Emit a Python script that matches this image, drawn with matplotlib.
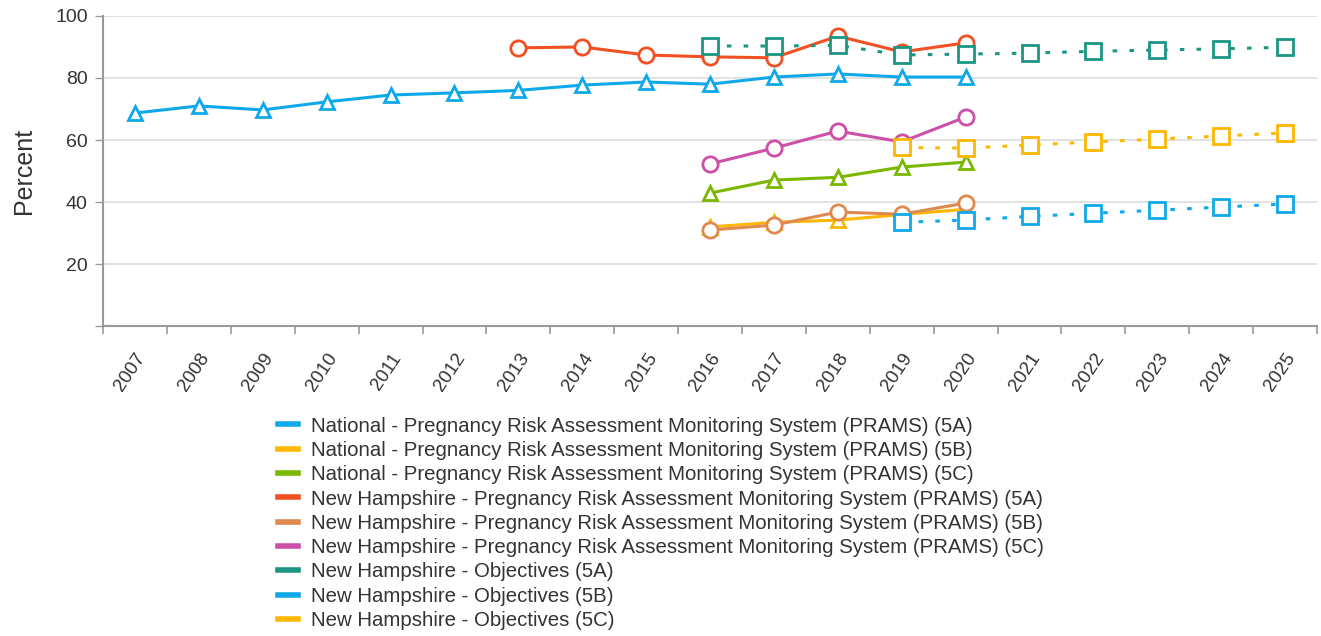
import matplotlib.pyplot as plt
import numpy as np

years = [str(y) for y in range(2007, 2026)]

# national PRAMS
nat_5a_years = list(range(2007, 2021))
nat_5a = [68.7, 71.0, 69.7, 72.3, 74.5, 75.2, 76.0, 77.7, 78.7, 78.0, 80.3, 81.3, 80.3, 80.3]
nat_5b_years = list(range(2016, 2021))
nat_5b = [32.0, 33.5, 34.2, 36.0, 37.7]
nat_5c_years = list(range(2016, 2021))
nat_5c = [42.9, 47.1, 48.0, 51.3, 52.9]

# New Hampshire PRAMS
nh_5a_years = list(range(2013, 2021))
nh_5a = [89.7, 90.0, 87.4, 86.8, 86.5, 93.5, 88.4, 91.3]
nh_5b_years = list(range(2016, 2021))
nh_5b = [31.0, 32.6, 36.8, 36.1, 39.7]
nh_5c_years = list(range(2016, 2021))
nh_5c = [52.3, 57.4, 62.9, 59.4, 67.4]

# New Hampshire objectives
obj_5a_years = list(range(2016, 2026))
obj_5a = [90.3, 90.3, 90.5, 87.4, 87.7, 88.0, 88.6, 89.0, 89.4, 89.9]
obj_5b_years = list(range(2019, 2026))
obj_5b = [33.5, 34.2, 35.4, 36.4, 37.4, 38.4, 39.4]
obj_5c_years = list(range(2019, 2026))
obj_5c = [57.6, 57.4, 58.4, 59.4, 60.3, 61.3, 62.3]

series = [
    ("National - Pregnancy Risk Assessment Monitoring System (PRAMS) (5A)", nat_5a_years, nat_5a, "#0fa8ea", "^", "-"),
    ("National - Pregnancy Risk Assessment Monitoring System (PRAMS) (5B)", nat_5b_years, nat_5b, "#ffb700", "^", "-"),
    ("National - Pregnancy Risk Assessment Monitoring System (PRAMS) (5C)", nat_5c_years, nat_5c, "#7ab800", "^", "-"),
    ("New Hampshire - Pregnancy Risk Assessment Monitoring System (PRAMS) (5A)", nh_5a_years, nh_5a, "#f25022", "o", "-"),
    ("New Hampshire - Pregnancy Risk Assessment Monitoring System (PRAMS) (5B)", nh_5b_years, nh_5b, "#de8a4f", "o", "-"),
    ("New Hampshire - Pregnancy Risk Assessment Monitoring System (PRAMS) (5C)", nh_5c_years, nh_5c, "#cc4fa8", "o", "-"),
    ("New Hampshire - Objectives (5A)", obj_5a_years, obj_5a, "#1a9683", "s", (0, (1.5, 4))),
    ("New Hampshire - Objectives (5B)", obj_5b_years, obj_5b, "#0fa8ea", "s", (0, (1.5, 4))),
    ("New Hampshire - Objectives (5C)", obj_5c_years, obj_5c, "#ffb700", "s", (0, (1.5, 4))),
]

plt.rcParams["font.family"] = ["Liberation Sans", "DejaVu Sans"]

fig = plt.figure(figsize=(13.21, 6.36), dpi=100)
ax = fig.add_axes([0.078, 0.487, 0.919, 0.488])

for label, yrs, vals, color, marker, ls in series:
    x = [y - 2007 for y in yrs]
    ax.plot(x, vals, color=color, linestyle=ls, linewidth=2.2, marker=marker,
            markersize=11 if marker != "^" else 10, markerfacecolor="white",
            markeredgecolor=color, markeredgewidth=2.0, label=label,
            solid_capstyle="round", dash_capstyle="butt")

ax.set_xlim(-0.5, len(years) - 0.5)
ax.set_ylim(0, 100)
ax.set_yticks([0, 20, 40, 60, 80, 100])
ax.set_yticklabels(["", "20", "40", "60", "80", "100"])
ax.set_xticks(np.arange(len(years)))
ax.set_xticklabels(years, rotation=56, ha="right", va="top", rotation_mode="anchor")
ax.set_xticks(np.arange(len(years) + 1) - 0.5, minor=True)
ax.tick_params(axis="x", which="major", length=0, pad=17, labelsize=13.5, labelcolor="#333333")
ax.tick_params(axis="x", which="minor", length=6, color="#999999", width=1.2)
ax.tick_params(axis="y", length=6, color="#999999", width=1.0, labelsize=14, labelcolor="#333333", pad=5)
ax.grid(axis="y", color="#dddddd", linewidth=1.2)
ax.set_axisbelow(True)
for s in ["top", "right"]:
    ax.spines[s].set_visible(False)
for s in ["left", "bottom"]:
    ax.spines[s].set_color("#999999")
    ax.spines[s].set_linewidth(1.5)
ax.set_ylabel("Percent", fontsize=18, color="#333333", labelpad=14)

handles, labels = ax.get_legend_handles_labels()
leg_handles = [plt.Line2D([], [], color=h.get_color(), linewidth=4) for h in handles]
fig.legend(leg_handles, labels, loc="upper left", bbox_to_anchor=(0.2105, 0.345),
           frameon=False, fontsize=14.7, handlelength=1.0, handletextpad=0.6,
           labelspacing=0.26, borderaxespad=0, borderpad=0, labelcolor="#333333")

fig.savefig("out.png", dpi=100)
